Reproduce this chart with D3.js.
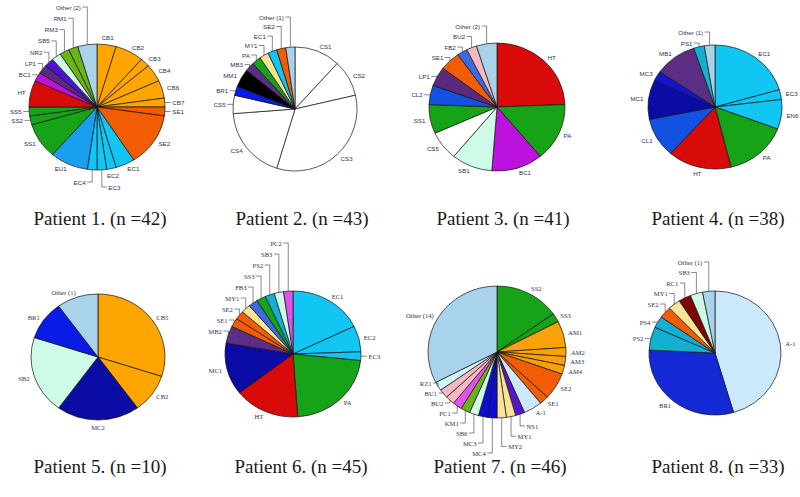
<!DOCTYPE html>
<html><head><meta charset="utf-8">
<script src="https://cdn.jsdelivr.net/npm/d3@7"></script>
<style>
html,body{margin:0;padding:0;background:#fff}
svg{display:block}
</style></head><body>
<svg id="c" width="800" height="497"></svg>
<script>
// ---- data (clockwise from 12 o'clock) ----
const p1Names  = ['CB1','CB2','CB3','CB4','CB6','CB7','SE1','SE2','EC1','EC2','EC3','EC4','EU1','SS1','SS2','SS5','HT','BC1','LP1','NR2','SB5','RM3','RM1','Other (2)'];
const p1Counts = [2,3,1,2,2,1,1,6,2,1,1,1,4,4,1,1,3,1,1,1,1,1,1,2];

const p2Names  = ['CS1','CS2','CS3','CS4','CS5','BR1','MM1','MB3','PA','MY1','EC1','SE2','Other (1)'];
const p2Counts = [5,4,14,8,2,1,2,1,1,1,1,1,1];

const p3Names  = ['HT','PA','BC1','SB1','CS5','SS1','CL2','LP1','SE1','FB2','BU2','Other (2)'];
const p3Counts = [10,6,5,4,3,3,2,2,2,1,1,2];

const p4Names  = ['EC1','EC3','EN6','PA','HT','CL1','MC1','MC3','MB1','PS1','Other (1)'];
const p4Counts = [8,1,3,6,6,4,4,1,4,1,1];

const p5Names  = ['CB5','CB2','MC2','SB2','BR1','Other (1)'];
const p5Counts = [3,1,2,2,1,1];

const p6Names  = ['EC1','EC2','EC3','PA','HT','MC1','MB2','SE1','SE2','MY1','FB3','SS3','PS2','SB3','PC2'];
const p6Counts = [8,3,1,10,7,6,2,1,1,1,1,1,1,1,1];

const p7Names  = ['SS2','SS3','AM1','AM2','AM3','AM4','SE2','SE1','A-1','NS1','MY1','MY2','MC4','MC3','SB6','KM1','PC1','BU2','BU1','RZ1','Other (14)'];
const p7Counts = [7,1,3,1,1,1,3,1,2,1,1,1,1,1,1,1,1,1,1,1,15];

const p8Names  = ['A-1','BR1','PS2','PS4','SE2','MY1','RC1','SB3','Other (1)'];
const p8Counts = [15,10,2,1,1,1,1,1,1];

const titles = ['Patient 1. (n =42)','Patient 2. (n =43)','Patient 3. (n =41)','Patient 4. (n =38)',
                'Patient 5. (n =10)','Patient 6. (n =45)','Patient 7. (n =46)','Patient 8. (n =33)'];

const PIES = [
  {names:p1Names,counts:p1Counts},{names:p2Names,counts:p2Counts},
  {names:p3Names,counts:p3Counts},{names:p4Names,counts:p4Counts},
  {names:p5Names,counts:p5Counts},{names:p6Names,counts:p6Counts},
  {names:p7Names,counts:p7Counts},{names:p8Names,counts:p8Counts}
];

// ---- colours by genotype prefix ----
const PAL = {
  CB:'#ffa500', AM:'#f9a108', SE:'#f25c05', EC:'#12c6f3', EN:'#12c6f3', EU:'#1a9ff0',
  SS:'#17a317', PA:'#17a317', HT:'#d80a0a', BC:'#bb12dd', LP:'#5c2a7c', NR:'#4b12d6',
  SB:'#cdfbe6', RM:'#6ab417', KM:'#6ab417', Ot:'#a9d3ea', CS:'#ffffff', BR:'#0b1be6',
  MM:'#000000', MB:'#5b2d84', MY:'#f9e394', CL:'#1352e0', FB:'#3a6be0', BU:'#f6b9c3',
  MC:'#0b0ba6', PS:'#13b0d2', PC:'#e052ea', RC:'#7d0505', RZ:'#cff8fb', NS:'#5a16c6',
  'A-':'#cce9fb'
};
const OVERRIDE = {'3:MC3':'#1414d0','6:MC4':'#0c0cd2','6:MC3':'#0c0cd2','7:BR1':'#1428d4'};
function col(name,i){ return OVERRIDE[i+':'+name] || PAL[name.slice(0,2)] || '#ccc'; }

// ---- layout ----
const LAYOUT = [
  {cx:97, cy:107,rx:68,ry:63,serif:false,ulTop:7,  ulStep:11.3,dlBase:182,dlStep:10,drBase:187,drStep:10,
   types:['r','r','r','r','r','t','t','r','r','r','dr','dl','r','r','t','t','r','ul','ul','ul','ul','ul','ul','ul']},
  {cx:295,cy:109,rx:62,ry:62,serif:false,ulTop:17, ulStep:9.5,
   types:['r','r','r','r','t','t','r','ul','ul','ul','ul','ul','ul']},
  {cx:497,cy:107,rx:68,ry:64,serif:false,ulTop:26, ulStep:10.5,
   types:['r','r','r','r','r','r','t','t','ul','ul','ul','ul']},
  {cx:715,cy:107,rx:67,ry:62,serif:false,ulTop:32, ulStep:11,
   types:['r','r','r','r','r','r','r','r','r','ul','ul']},
  {cx:98, cy:357,rx:67,ry:63,serif:true,
   types:['r','r','r','r','r','r']},
  {cx:293,cy:354,rx:68,ry:63,serif:true,ulTop:243,ulStep:11,
   types:['r','r','t','r','r','r','ul','ul','ul','ul','ul','ul','ul','ul','ul']},
  {cx:497,cy:352,rx:69,ry:66,serif:true,dlBase:383,dlStep:10,drBase:426,drStep:10.3,
   types:['r','r','r','r','r','r','r','r','r','dr','dr','dr','dl','dl','dl','dl','dl','dl','dl','dl','r']},
  {cx:715,cy:353,rx:66,ry:62,serif:true,ulTop:262,ulStep:10.5,
   types:['r','r','t','t','ul','ul','ul','ul','ul']}
];
const TITLE_POS = [[100,218],[302,218],[503,218],[718,218],[100,466],[301,466],[500,466],[718,466]];

const SANS  = 'Liberation Sans, Arial, sans-serif';
const SERIF = 'Liberation Serif, Times New Roman, serif';
const TXT = '#2b3352', LINE = '#3a3a3a';

const svg = d3.select('#c');

function drawPie(i){
  const L = LAYOUT[i], P = PIES[i];
  const arcs = d3.pie().sort(null).value(d=>d)(P.counts);
  const arc = d3.arc().innerRadius(0).outerRadius(L.ry);
  const g = svg.append('g');

  g.append('g')
    .attr('transform',`translate(${L.cx},${L.cy}) scale(${L.rx/L.ry},1)`)
    .selectAll('path').data(arcs).join('path')
    .attr('d',arc)
    .attr('fill',(d,j)=>col(P.names[j],i))
    .attr('stroke','#111').attr('stroke-width',0.7)
    .attr('vector-effect','non-scaling-stroke');

  const mid = d=>(d.startAngle+d.endAngle)/2;
  const pt = (a,off)=>[L.cx+(L.rx+off)*Math.sin(a), L.cy-(L.ry+off)*Math.cos(a)];
  const font = L.serif ? SERIF : SANS;
  const fs = L.serif ? 6.6 : 6.2;
  const lab = g.append('g').attr('font-family',font).attr('font-size',fs).attr('fill',TXT);
  const lines = g.append('g').attr('fill','none').attr('stroke',LINE).attr('stroke-width',0.6);

  const grp = t => L.types.map((x,j)=>x===t?j:-1).filter(j=>j>=0);
  const ul = grp('ul'), dl = grp('dl'), dr = grp('dr');

  arcs.forEach((d,j)=>{
    const a = mid(d), t = L.types[j], name = P.names[j];
    const s = Math.sin(a);
    const [ex,ey] = pt(a,0);
    if(t==='r'){
      const off = Math.abs(s)<0.25 ? 7 : 5;
      const [x,y] = pt(a,off);
      lab.append('text').attr('x',x).attr('y',y)
        .attr('dominant-baseline','central')
        .attr('text-anchor', s>0.25?'start':s<-0.25?'end':'middle')
        .text(name);
    } else if(t==='t'){
      const dir = s>=0?1:-1;
      lines.append('path').attr('d',`M${ex},${ey}H${ex+dir*6}`);
      lab.append('text').attr('x',ex+dir*7.5).attr('y',ey)
        .attr('dominant-baseline','central')
        .attr('text-anchor',dir>0?'start':'end').text(name);
    } else if(t==='ul'){
      const k = ul.length-1-ul.indexOf(j);
      const y = L.ulTop + k*L.ulStep;
      lines.append('path').attr('d',`M${ex},${ey}V${y}H${ex-5}`);
      lab.append('text').attr('x',ex-6.5).attr('y',y)
        .attr('dominant-baseline','central').attr('text-anchor','end').text(name);
    } else if(t==='dl'){
      const k = dl.length-1-dl.indexOf(j);
      const y = L.dlBase + k*L.dlStep;
      lines.append('path').attr('d',`M${ex},${ey}V${y}H${ex-5}`);
      lab.append('text').attr('x',ex-6.5).attr('y',y)
        .attr('dominant-baseline','central').attr('text-anchor','end').text(name);
    } else if(t==='dr'){
      const k = dr.indexOf(j);
      const y = L.drBase + k*L.drStep;
      lines.append('path').attr('d',`M${ex},${ey}V${y}H${ex+5}`);
      lab.append('text').attr('x',ex+6.5).attr('y',y)
        .attr('dominant-baseline','central').attr('text-anchor','start').text(name);
    }
  });

  svg.append('text').attr('x',TITLE_POS[i][0]).attr('y',TITLE_POS[i][1])
    .attr('text-anchor','middle').attr('dominant-baseline','central')
    .attr('font-family',SERIF).attr('font-size',19).attr('fill','#1a1a1a')
    .text(titles[i]);
}

PIES.forEach((_,i)=>drawPie(i));
</script>
</body></html>
